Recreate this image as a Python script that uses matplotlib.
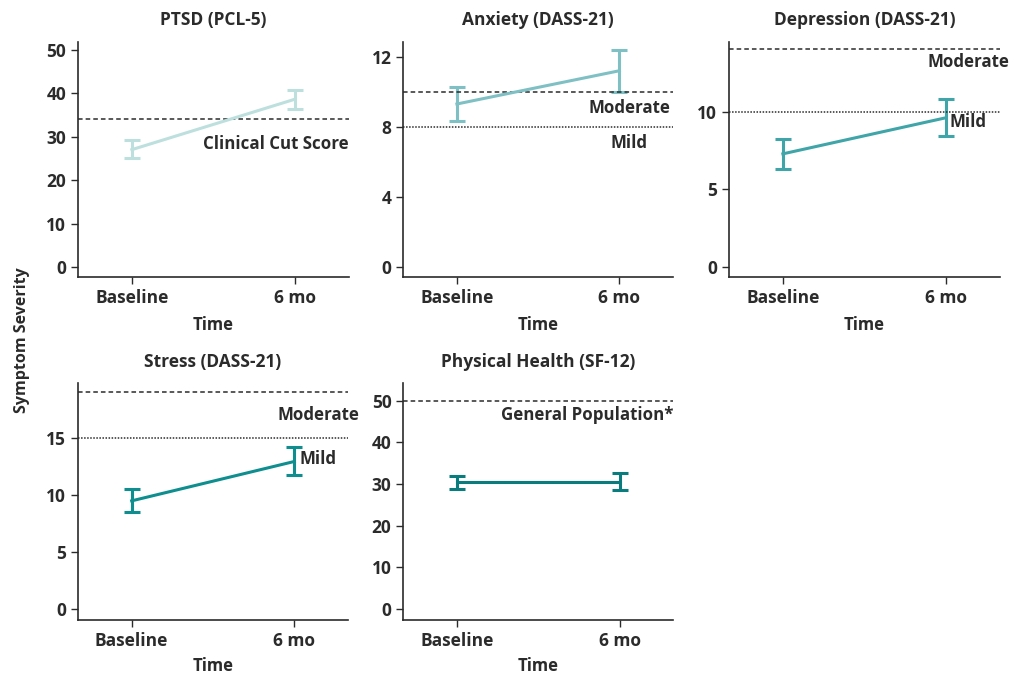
import matplotlib.pyplot as plt

plt.rcParams['font.family'] = ['Open Sans', 'DejaVu Sans']

times = ['Baseline', '6 mo']

titles = ['PTSD (PCL-5)', 'Anxiety (DASS-21)', 'Depression (DASS-21)',
          'Stress (DASS-21)', 'Physical Health (SF-12)']

means = [[27.0, 38.6], [9.3, 11.2], [7.27, 9.6], [9.5, 12.95], [30.4, 30.4]]
lower = [[25.1, 36.4], [8.34, 10.0], [6.28, 8.43], [8.5, 11.75], [28.9, 28.5]]
upper = [[29.1, 40.8], [10.25, 12.38], [8.24, 10.8], [10.5, 14.2], [32.0, 32.6]]

yticks = [[0, 10, 20, 30, 40, 50], [0, 4, 8, 12], [0, 5, 10], [0, 5, 10, 15],
          [0, 10, 20, 30, 40, 50]]
ylims = [(-2.2, 51.8), (-0.57, 12.86), (-0.65, 14.5), (-0.94, 19.8), (-2.6, 54.2)]

# reference lines: (value, label, linestyle)
refs = [
    [(34, 'Clinical Cut Score', (0, (3, 2)))],
    [(10, 'Moderate', (0, (3, 2))), (8, 'Mild', (0, (1, 1)))],
    [(14, 'Moderate', (0, (3, 2))), (10, 'Mild', (0, (1, 1)))],
    [(19, 'Moderate', (0, (3, 2))), (15, 'Mild', (0, (1, 1)))],
    [(50, 'General Population*', (0, (3, 2)))],
]
# label positions (x in data units, y in data units)
label_pos = [
    [(0.88, 28.2)],
    [(1.06, 9.05), (1.06, 7.09)],
    [(1.136, 13.2), (1.136, 9.35)],
    [(1.147, 17.0), (1.147, 13.2)],
    [(0.80, 46.6)],
]

colors = ['#bde0de', '#7fc0c4', '#3fa5a8', '#0e8e8f', '#0b7c7e']

W, H = 1009, 673
fig = plt.figure(figsize=(W / 100, H / 100), dpi=100)

boxes = [(78, 41.7, 349, 276.7), (403.3, 41.7, 673, 276.7), (729, 41.7, 1000, 276.7),
         (78, 383.3, 348, 620), (403.3, 383.3, 673.3, 620)]

dark = '#2b2b2b'
for i in range(5):
    l, t, r, b = boxes[i]
    ax = fig.add_axes([l / W, 1 - b / H, (r - l) / W, (b - t) / H])
    x = [0, 1]
    m = means[i]
    err = [[m[k] - lower[i][k] for k in x], [upper[i][k] - m[k] for k in x]]
    ax.errorbar(x, m, yerr=err, color=colors[i], lw=2.2, elinewidth=2.2,
                capsize=6, capthick=2.2)
    for (val, lab, ls), (tx, ty) in zip(refs[i], label_pos[i]):
        ax.axhline(val, color=dark, lw=1.1, ls=ls)
        ax.text(tx, ty, lab, ha='center', va='center', fontsize=12.2,
                color=dark, fontweight='bold')
    ax.set_xlim(-0.33, 1.33)
    ax.set_ylim(*ylims[i])
    ax.set_xticks(x)
    ax.set_xticklabels(times)
    ax.set_yticks(yticks[i])
    ax.tick_params(labelsize=12.5, colors=dark, length=5, width=1)
    for lab in ax.get_xticklabels() + ax.get_yticklabels():
        lab.set_fontweight('bold')
    for s in ['top', 'right']:
        ax.spines[s].set_visible(False)
    for s in ['left', 'bottom']:
        ax.spines[s].set_color(dark)
        ax.spines[s].set_linewidth(1.2)
    ax.set_title(titles[i], fontsize=12.5, fontweight='bold', color=dark, pad=12)
    ax.set_xlabel('Time', fontsize=12, fontweight='bold', color=dark,
                  labelpad=7 if i < 3 else 5)

fig.text(22 / W, 1 - 340 / H, 'Symptom Severity', rotation=90, ha='center',
         va='center', fontsize=11.5, fontweight='bold', color=dark)

fig.savefig('out.png', dpi=100)
